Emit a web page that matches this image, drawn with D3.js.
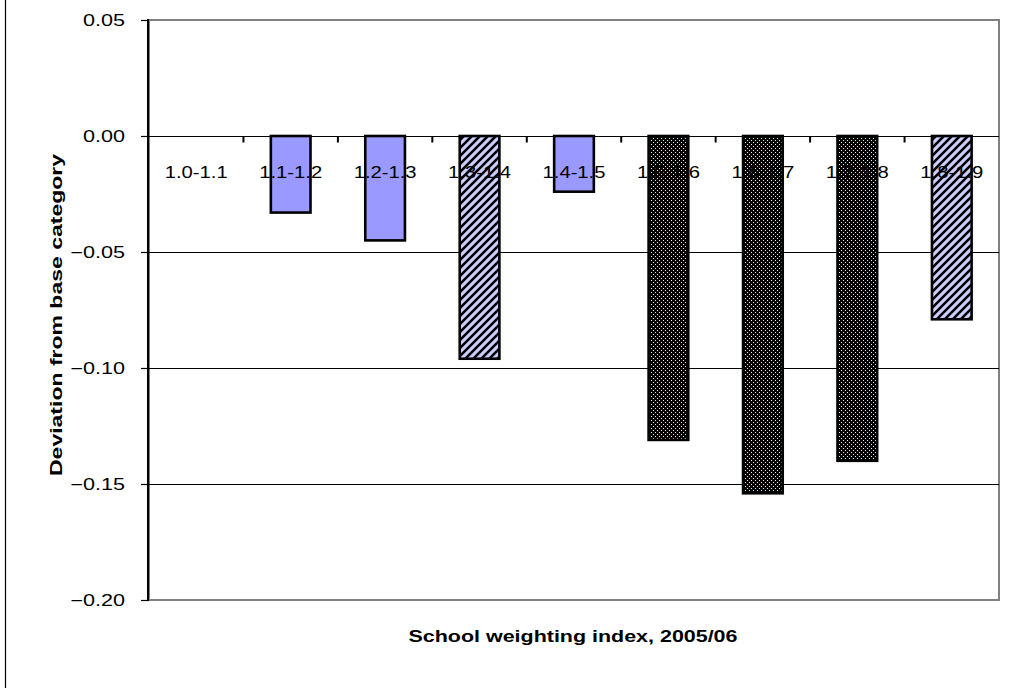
<!DOCTYPE html>
<html>
<head>
<meta charset="utf-8">
<script src="https://cdn.jsdelivr.net/npm/d3@7/dist/d3.min.js"></script>
<style>
  html, body { margin: 0; padding: 0; background: #fff; }
  svg { display: block; }
  text { font-family: "Liberation Sans", Arial, sans-serif; fill: #000; }
</style>
</head>
<body>
<svg id="chart" width="1018" height="688"></svg>
<script>
// Weighting-index bands and their deviation from the base band (1.0-1.1)
const categories = ["1.0-1.1", "1.1-1.2", "1.2-1.3", "1.3-1.4", "1.4-1.5", "1.5-1.6", "1.6-1.7", "1.7-1.8", "1.8-1.9"];
const deviations = [0, -0.033, -0.045, -0.096, -0.024, -0.131, -0.154, -0.140, -0.079];
// Fill style per band: solid, striped or dark hatched
const fillStyles = ["solid", "solid", "solid", "stripe", "solid", "dark", "dark", "dark", "stripe"];
const yTicks = [0.05, 0.00, -0.05, -0.10, -0.15, -0.20];
const yTitle = "Deviation from base category";
const xTitle = "School weighting index, 2005/06";

const svg = d3.select("#chart");
const plot = { left: 149, right: 999, top: 20, bottom: 600 };

const x = d3.scaleBand().domain(categories).range([plot.left, plot.right]).padding(0);
const y = d3.scaleLinear().domain([-0.20, 0.05]).range([plot.bottom, plot.top]);

// Fill patterns
const defs = svg.append("defs");
const stripe = defs.append("pattern").attr("id", "stripe")
  .attr("patternUnits", "userSpaceOnUse").attr("width", 8).attr("height", 8);
stripe.append("rect").attr("width", 8).attr("height", 8).attr("fill", "#ccccff");
stripe.append("path")
  .attr("d", "M-2,2 L2,-2 M0,8 L8,0 M6,10 L10,6")
  .attr("stroke", "#000").attr("stroke-width", 2.6);

const dark = defs.append("pattern").attr("id", "dark")
  .attr("patternUnits", "userSpaceOnUse").attr("width", 4).attr("height", 4);
dark.append("rect").attr("width", 4).attr("height", 4).attr("fill", "#000");
[[3, 0], [1, 2]].forEach(([px, py]) =>
  dark.append("rect").attr("x", px).attr("y", py).attr("width", 1).attr("height", 1).attr("fill", "#ccffff"));

const fillFor = s => s === "solid" ? "#9999ff" : s === "stripe" ? "url(#stripe)" : "url(#dark)";

// Outer chart frame edge
svg.append("line").attr("x1", 5.5).attr("x2", 5.5).attr("y1", 0).attr("y2", 688)
  .attr("stroke", "#000").attr("stroke-width", 1.2);

// Plot area border
svg.append("rect")
  .attr("x", plot.left).attr("y", plot.top)
  .attr("width", plot.right - plot.left).attr("height", plot.bottom - plot.top)
  .attr("fill", "#fff").attr("stroke", "#808080").attr("stroke-width", 2);

// Horizontal gridlines
svg.append("g").selectAll("line")
  .data(yTicks.filter(t => t < 0 && t > -0.20))
  .join("line")
  .attr("x1", plot.left).attr("x2", plot.right)
  .attr("y1", d => Math.round(y(d)) + 0.5).attr("y2", d => Math.round(y(d)) + 0.5)
  .attr("stroke", "#000").attr("stroke-width", 1);

// Category axis along zero, with ticks between bands
const zeroY = Math.round(y(0)) + 0.5;
svg.append("line").attr("x1", plot.left).attr("x2", plot.right)
  .attr("y1", zeroY).attr("y2", zeroY).attr("stroke", "#000").attr("stroke-width", 1.2);
svg.append("g").selectAll("line")
  .data(categories.slice(1))
  .join("line")
  .attr("x1", d => x(d)).attr("x2", d => x(d))
  .attr("y1", zeroY).attr("y2", zeroY + 6)
  .attr("stroke", "#000").attr("stroke-width", 2);

// Bars
const barW = x.bandwidth() * 0.42;
svg.append("g").selectAll("rect")
  .data(categories.map((c, i) => ({ c, v: deviations[i], s: fillStyles[i] })).filter(d => d.v !== 0))
  .join("rect")
  .attr("x", d => x(d.c) + (x.bandwidth() - barW) / 2)
  .attr("y", d => y(Math.max(0, d.v)))
  .attr("width", barW)
  .attr("height", d => Math.abs(y(d.v) - y(0)))
  .attr("fill", d => fillFor(d.s))
  .attr("stroke", "#000").attr("stroke-width", 2.6);

// Category labels
svg.append("g").selectAll("text")
  .data(categories)
  .join("text")
  .attr("transform", d => `translate(${x(d) + x.bandwidth() / 2},178) scale(1.19,1)`)
  .attr("text-anchor", "middle")
  .attr("font-size", 17)
  .text(d => d);

// Value axis
svg.append("line").attr("x1", plot.left - 1).attr("x2", plot.left - 1)
  .attr("y1", plot.top - 1).attr("y2", plot.bottom + 1)
  .attr("stroke", "#000").attr("stroke-width", 2);
svg.append("g").selectAll("line")
  .data(yTicks)
  .join("line")
  .attr("x1", plot.left - 8).attr("x2", plot.left)
  .attr("y1", d => Math.round(y(d)) + 0.5).attr("y2", d => Math.round(y(d)) + 0.5)
  .attr("stroke", "#000").attr("stroke-width", 1.2);
svg.append("g").selectAll("text")
  .data(yTicks)
  .join("text")
  .attr("transform", d => `translate(125,${y(d) + 6}) scale(1.35,1)`)
  .attr("text-anchor", "end")
  .attr("font-size", 16)
  .text(d => d3.format(".2f")(d));

// Axis titles
svg.append("text")
  .attr("x", 573).attr("y", 642)
  .attr("text-anchor", "middle")
  .attr("font-size", 17).attr("font-weight", "bold")
  .attr("textLength", 329).attr("lengthAdjust", "spacingAndGlyphs")
  .text(xTitle);
svg.append("text")
  .attr("transform", "translate(62,315) rotate(-90)")
  .attr("text-anchor", "middle")
  .attr("font-size", 17).attr("font-weight", "bold")
  .attr("textLength", 322).attr("lengthAdjust", "spacingAndGlyphs")
  .text(yTitle);
</script>
</body>
</html>
